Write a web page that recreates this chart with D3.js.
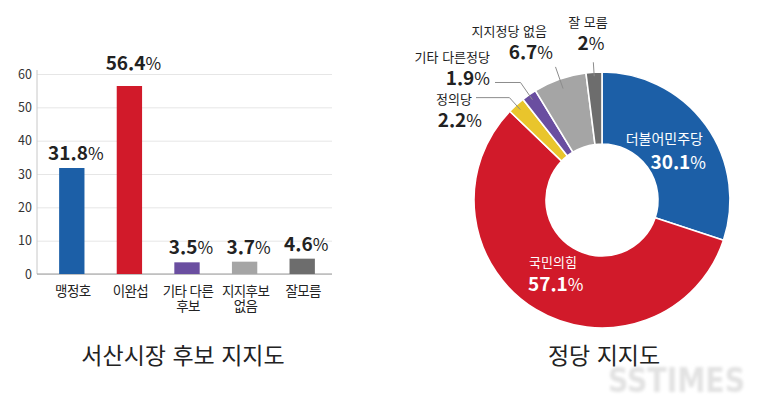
<!DOCTYPE html>
<html lang="ko">
	<head>
		<meta charset="utf-8">
		<title>서산시장 후보 지지도 / 정당 지지도</title>
		<script type="text/javascript" src="https://cdn.jsdelivr.net/npm/d3@7"></script>
		<style type="text/css">
			body { margin: 0; background: #fff; }
			svg text { font-family: "Noto Sans CJK KR", "Noto Sans", sans-serif; }
			.grid line { stroke: #e6e6e6; }
			.grid path { display: none; }
			.axis text { fill: #333; font-size: 12.5px; }
		</style>
	</head>
	<body>

		<div id="chart"></div>

		<script type="text/javascript">

		// 서산시장 후보 지지도
		var candLines = [["맹정호"], ["이완섭"], ["기타 다른", "후보"], ["지지후보", "없음"], ["잘모름"]]
		var candValues = [31.8, 56.4, 3.5, 3.7, 4.6]
		var candColors = ["#1c5fa7", "#d11a2a", "#6a4ea0", "#a5a5a5", "#6d6d6d"]
		var yTicks = [0, 10, 20, 30, 40, 50, 60]

		// 정당 지지도
		var partyNames = ["더불어민주당", "국민의힘", "정의당", "기타 다른정당", "지지정당 없음", "잘 모름"]
		var partyValues = [30.1, 57.1, 2.2, 1.9, 6.7, 2]
		var partyColors = ["#1c5fa7", "#d11a2a", "#e9c52c", "#6a4ea0", "#a5a5a5", "#6d6d6d"]

		var titles = ["서산시장 후보 지지도", "정당 지지도"]

		var w = 766
		var h = 398

		var svg = d3.select("#chart")
				.append("svg")
				.attr("width", w)
				.attr("height", h)

		// watermark (behind everything)
		var defs = svg.append("defs")
		defs.append("filter").attr("id", "soft")
			.append("feGaussianBlur").attr("stdDeviation", 1.6)

		svg.append("text")
			.attr("x", 608)
			.attr("y", 392)
			.attr("textLength", 137)
			.attr("lengthAdjust", "spacingAndGlyphs")
			.attr("filter", "url(#soft)")
			.style("font-family", "'Liberation Sans Narrow', 'DejaVu Sans Condensed', sans-serif")
			.style("font-size", "34px")
			.style("font-weight", "bold")
			.style("fill", "#e2e2e2")
			.text("SSTIMES")

		drawBars()
		drawDonut()

		function drawBars(){

			var left = 37, right = 332, top = 74, bottom = 274

			var xScale = d3.scaleBand()
				.domain(d3.range(candValues.length))
				.range([43, 331])
				.paddingInner(0.56)
				.paddingOuter(0.28)

			var yScale = d3.scaleLinear()
				.domain([0, 60])
				.range([bottom, top])

			var yAxis = d3.axisLeft(yScale)
				.tickValues(yTicks)
				.tickSize(-(right - left))
				.tickPadding(6)

			var g = svg.append("g")
				.attr("class", "axis grid")
				.attr("transform", "translate(" + left + ",0)")
				.call(yAxis)

			g.selectAll(".tick text").attr("x", -5)

			// axis lines
			svg.append("line")
				.attr("x1", left).attr("x2", left)
				.attr("y1", top - 4).attr("y2", bottom)
				.style("stroke", "#c8c8c8")
			svg.append("line")
				.attr("x1", left).attr("x2", right)
				.attr("y1", bottom).attr("y2", bottom)
				.style("stroke", "#9a9a9a")

			svg.selectAll("rect.bar")
				.data(candValues)
				.enter()
				.append("rect")
				.attr("class", "bar")
				.attr("x", function(d, i){ return xScale(i) })
				.attr("y", function(d){ return yScale(d) })
				.attr("width", xScale.bandwidth())
				.attr("height", function(d){ return bottom - yScale(d) })
				.style("fill", function(d, i){ return candColors[i] })

			var vl = svg.selectAll("text.val")
				.data(candValues)
				.enter()
				.append("text")
				.attr("class", "val")
				.attr("x", function(d, i){ return xScale(i) + xScale.bandwidth() / 2 + 4 })
				.attr("y", function(d){
					var y = yScale(d) - 8
					return y > top + 10 ? y : top - 4
				})
				.attr("text-anchor", "middle")
				.style("fill", "#222")
				.style("font-size", "19px")
				.style("font-weight", "bold")
			vl.append("tspan").text(function(d){ return d })
			vl.append("tspan").style("font-weight", "normal").style("font-size", "17px").text("%")

			var xl = svg.selectAll("text.cat")
				.data(candLines)
				.enter()
				.append("text")
				.attr("class", "cat")
				.attr("text-anchor", "middle")
				.style("fill", "#222")
				.style("font-size", "13.5px")
				.style("letter-spacing", "-0.6px")
			xl.selectAll("tspan")
				.data(function(d, i){ return d.map(function(s){ return { s: s, i: i } }) })
				.enter()
				.append("tspan")
				.attr("x", function(d){ return xScale(d.i) + xScale.bandwidth() / 2 + 1 })
				.attr("y", function(d, j){ return 296 + j * 15 })
				.text(function(d){ return d.s })

			svg.append("text")
				.attr("x", 183)
				.attr("y", 364)
				.attr("text-anchor", "middle")
				.style("font-size", "23px")
				.style("fill", "#222")
				.text(titles[0])
		}

		function drawDonut(){

			var cx = 602, cy = 200
			var rIn = 56, rOut = 128

			var pie = d3.pie().sort(null).value(function(d){ return d })
			var arcs = pie(partyValues)

			var arc = d3.arc().innerRadius(rIn).outerRadius(rOut)

			var g = svg.append("g")
				.attr("transform", "translate(" + cx + "," + cy + ")")

			g.selectAll("path")
				.data(arcs)
				.enter()
				.append("path")
				.attr("d", arc)
				.style("fill", function(d, i){ return partyColors[i] })
				.style("stroke", "#fff")
				.style("stroke-width", 1.6)

			function pt(a, r){ return [r * Math.sin(a), -r * Math.cos(a)] }
			function mid(d){ return (d.startAngle + d.endAngle) / 2 }

			// inner labels (white)
			var inner = [
				{ i: 0, anchor: "end", nx: 101, ny: -56, vx: 104, vy: -31 },
				{ i: 1, anchor: "start", nx: -73, ny: 67, vx: -74, vy: 91 }
			]
			inner.forEach(function(o){
				g.append("text")
					.attr("x", o.nx).attr("y", o.ny)
					.attr("text-anchor", o.anchor)
					.style("fill", "#fff")
					.style("font-size", o.i == 0 ? "14px" : "13px")
					.text(partyNames[o.i])
				var t = g.append("text")
					.attr("x", o.vx).attr("y", o.vy)
					.attr("text-anchor", o.anchor)
					.style("fill", "#fff")
					.style("font-size", "19px")
					.style("font-weight", "bold")
				t.append("tspan").text(partyValues[o.i])
				t.append("tspan").style("font-weight", "normal").style("font-size", "17px").text("%")
			})

			// outer labels with leader lines
			var outer = [
				{ i: 2, r1: 122, r2: 138, hx: -126, anchor: "end", nx: -130, ny: -96, vx: -120, vy: -73 },
				{ i: 3, r1: 122, r2: 143, hx: -107, anchor: "end", nx: -112, ny: -138, vx: -112, vy: -115 },
				{ i: 4, r1: 118, r2: 141, hx: null, anchor: "end", nx: -55, ny: -164, vx: -49, vy: -141 },
				{ i: 5, r1: 124, r2: 138, hx: null, anchor: "middle", nx: -14, ny: -173, vx: -11, vy: -150 }
			]
			outer.forEach(function(o){
				var a = mid(arcs[o.i])
				var p1 = pt(a, o.r1), p2 = pt(a, o.r2)
				var pts = [p1, p2]
				if (o.hx !== null) pts.push([o.hx, p2[1]])
				g.append("path")
					.attr("d", d3.line()(pts))
					.style("fill", "none")
					.style("stroke", "#8c8c8c")
					.style("stroke-width", 1)

				g.append("text")
					.attr("x", o.nx).attr("y", o.ny)
					.attr("text-anchor", o.anchor)
					.style("fill", "#222")
					.style("font-size", "13px")
					.text(partyNames[o.i])
				var t = g.append("text")
					.attr("x", o.vx).attr("y", o.vy)
					.attr("text-anchor", o.anchor)
					.style("fill", "#222")
					.style("font-size", "19px")
					.style("font-weight", "bold")
				t.append("tspan").text(partyValues[o.i])
				t.append("tspan").style("font-weight", "normal").style("font-size", "17px").text("%")
			})

			svg.append("text")
				.attr("x", 604)
				.attr("y", 364)
				.attr("text-anchor", "middle")
				.style("font-size", "23px")
				.style("fill", "#222")
				.text(titles[1])
		}

		</script>
	</body>
</html>
